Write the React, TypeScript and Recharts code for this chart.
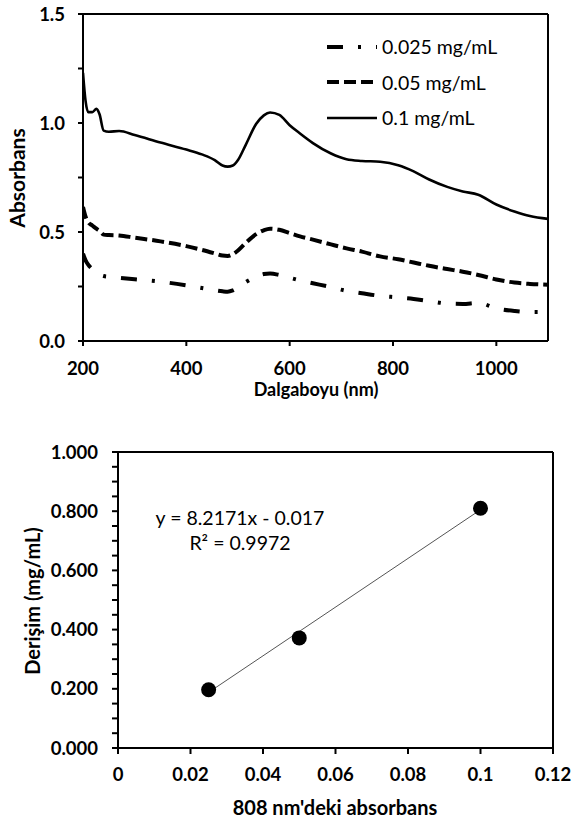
import React from "react";
import {
  LineChart,
  Line,
  ScatterChart,
  Scatter,
  XAxis,
  YAxis,
  ReferenceLine,
  Legend,
  Label,
} from "recharts";

// UV-Vis spectra (wavelength in nm)
const wavelengths = [
  200, 205, 210, 218, 226, 232, 240, 250, 270, 300, 350, 400, 430, 455, 470,
  480, 490, 500, 515, 535, 550, 562, 580, 600, 620, 645, 680, 710, 740, 775,
  810, 840, 870, 905, 935, 965, 1000, 1035, 1065, 1100,
];
const abs01 = [
  1.23, 1.1, 1.05, 1.05, 1.065, 1.04, 0.965, 0.96, 0.963, 0.945, 0.91, 0.878,
  0.856, 0.83, 0.805, 0.8, 0.805, 0.83, 0.9, 0.995, 1.035, 1.048, 1.037, 0.99,
  0.952, 0.908, 0.86, 0.834, 0.826, 0.822, 0.806, 0.778, 0.741, 0.707, 0.686,
  0.671, 0.626, 0.594, 0.573, 0.56,
];
const abs005 = [
  0.615, 0.57, 0.545, 0.53, 0.515, 0.505, 0.488, 0.486, 0.484, 0.474, 0.457,
  0.435, 0.418, 0.402, 0.392, 0.39, 0.398, 0.415, 0.45, 0.49, 0.508, 0.515,
  0.51, 0.495, 0.48, 0.465, 0.443, 0.425, 0.41, 0.388, 0.375, 0.36, 0.345,
  0.33, 0.318, 0.303, 0.282, 0.268, 0.262, 0.258,
];
const abs0025 = [
  0.4, 0.37, 0.35, 0.33, 0.315, 0.305, 0.298, 0.295, 0.29, 0.283, 0.272,
  0.255, 0.243, 0.233, 0.228, 0.226, 0.232, 0.245, 0.27, 0.295, 0.307, 0.31,
  0.303, 0.29, 0.278, 0.265, 0.247, 0.23, 0.219, 0.207, 0.2, 0.193, 0.183,
  0.172, 0.17, 0.175, 0.15, 0.138, 0.133, 0.133,
];
const specXTicks = [200, 400, 600, 800, 1000];
const specYTicks = [0, 0.25, 0.5, 0.75, 1, 1.25, 1.5];

// calibration
const calX = [0.025, 0.05, 0.1];
const calY = [0.197, 0.372, 0.81];
const trendEnds = [
  { x: 0.025, y: 0.188 },
  { x: 0.1, y: 0.805 },
];
const calXTicks = [0, 0.02, 0.04, 0.06, 0.08, 0.1, 0.12];
const calYTicks = Array.from({ length: 21 }, (_, i) => i * 0.05);

const spectra = wavelengths.map((wl, i) => ({
  wl,
  a01: abs01[i],
  a005: abs005[i],
  a0025: abs0025[i],
}));
const calPoints = calX.map((x, i) => ({ x, y: calY[i] }));

const series = [
  { key: "a0025", name: "0.025 mg/mL", dash: "16 15 3 15", width: 4 },
  { key: "a005", name: "0.05 mg/mL", dash: "12 5", width: 4 },
  { key: "a01", name: "0.1 mg/mL", dash: undefined, width: 2.6 },
];

const FONT = "Lato";
const tickStyle = { fill: "#000", fontSize: 18.5, fontWeight: 700, fontFamily: FONT };

const isStep = (v: number, step: number) =>
  Math.abs(v / step - Math.round(v / step)) < 1e-6;

const LegendBox = () => (
  <div style={{ fontFamily: FONT, fontSize: 19.5, color: "#000" }}>
    {series.map((s) => (
      <div
        key={s.key}
        style={{ display: "flex", alignItems: "center", height: 35.5 }}
      >
        <svg width={51} height={10}>
          <line
            x1={0}
            y1={5}
            x2={50}
            y2={5}
            stroke="#000"
            strokeWidth={s.width}
            strokeDasharray={s.dash}
          />
        </svg>
        <span style={{ marginLeft: 4 }}>{s.name}</span>
      </div>
    ))}
  </div>
);

const Dot = (props: any) => (
  <circle cx={props.cx} cy={props.cy} r={7.5} fill="#000" />
);

export default function App() {
  return (
    <div
      style={{
        position: "absolute",
        left: 0,
        top: 0,
        width: 574,
        height: 827,
        background: "#fff",
      }}
    >
      <LineChart
        width={574}
        height={410}
        data={spectra}
        margin={{ top: 14, right: 26, left: 13, bottom: 19 }}
      >
        <XAxis
          type="number"
          dataKey="wl"
          domain={[200, 1100]}
          ticks={specXTicks}
          interval={0}
          allowDataOverflow
          height={50}
          tick={tickStyle}
          tickSize={5}
          tickMargin={16}
          axisLine={{ stroke: "#000", strokeWidth: 2 }}
          tickLine={{ stroke: "#000", strokeWidth: 2 }}
        >
          <Label
            content={() => (
              <text
                x={316}
                y={396}
                textAnchor="middle"
                fontFamily={FONT}
                fontWeight={700}
                fontSize={18}
                fill="#000"
              >
                Dalgaboyu (nm)
              </text>
            )}
          />
        </XAxis>
        <YAxis
          type="number"
          domain={[0, 1.5]}
          ticks={specYTicks}
          interval={0}
          width={70}
          tick={tickStyle}
          tickSize={5}
          tickMargin={13}
          tickFormatter={(v: number) => (isStep(v, 0.5) ? v.toFixed(1) : "")}
          axisLine={{ stroke: "#000", strokeWidth: 2 }}
          tickLine={{ stroke: "#000", strokeWidth: 2 }}
        >
          <Label
            content={() => (
              <text
                x={25}
                y={178}
                transform="rotate(-90 25 178)"
                textAnchor="middle"
                fontFamily={FONT}
                fontWeight={700}
                fontSize={21}
                fill="#000"
              >
                Absorbans
              </text>
            )}
          />
        </YAxis>
        <ReferenceLine y={1.5} stroke="#000" strokeWidth={2} />
        <ReferenceLine x={1100} stroke="#000" strokeWidth={2} />
        {series.map((s) => (
          <Line
            key={s.key}
            type="monotone"
            dataKey={s.key}
            name={s.name}
            stroke="#000"
            strokeWidth={s.width}
            strokeDasharray={s.dash}
            dot={false}
            activeDot={false}
            isAnimationActive={false}
          />
        ))}
        <Legend
          layout="vertical"
          align="center"
          verticalAlign="middle"
          content={() => <LegendBox />}
          wrapperStyle={{ top: 29, left: 327, width: 220 }}
        />
      </LineChart>

      <div style={{ position: "absolute", left: 0, top: 420 }}>
        <ScatterChart
          width={574}
          height={407}
          margin={{ top: 32, right: 21, left: 38, bottom: 29 }}
        >
          <XAxis
            type="number"
            dataKey="x"
            domain={[0, 0.12]}
            ticks={calXTicks}
            interval={0}
            height={50}
            tick={tickStyle}
            tickSize={6}
            tickMargin={14}
            tickFormatter={(v: number) => String(Number(v.toFixed(2)))}
            axisLine={{ stroke: "#000", strokeWidth: 2 }}
            tickLine={{ stroke: "#000", strokeWidth: 2 }}
          >
            <Label
              content={() => (
                <text
                  x={335}
                  y={395}
                  textAnchor="middle"
                  fontFamily={FONT}
                  fontWeight={700}
                  fontSize={20}
                  fill="#000"
                >
                  808 nm'deki absorbans
                </text>
              )}
            />
          </XAxis>
          <YAxis
            type="number"
            dataKey="y"
            domain={[0, 1]}
            ticks={calYTicks}
            interval={0}
            width={80}
            tick={tickStyle}
            tickSize={6}
            tickMargin={14}
            tickFormatter={(v: number) => (isStep(v, 0.2) ? v.toFixed(3) : "")}
            axisLine={{ stroke: "#000", strokeWidth: 2 }}
            tickLine={{ stroke: "#000", strokeWidth: 2 }}
          >
            <Label
              content={() => (
                <text
                  x={40}
                  y={181}
                  transform="rotate(-90 40 181)"
                  textAnchor="middle"
                  fontFamily={FONT}
                  fontWeight={700}
                  fontSize={20}
                  fill="#000"
                >
                  Derişim (mg/mL)
                </text>
              )}
            />
          </YAxis>
          <ReferenceLine y={1} stroke="#000" strokeWidth={2} />
          <ReferenceLine x={0.12} stroke="#000" strokeWidth={2} />
          <ReferenceLine
            segment={trendEnds}
            stroke="#555"
            strokeWidth={1}
            label={{
              content: () => (
                <g fontFamily={FONT} fontSize={19.5} fill="#000">
                  <text x={240} y={105} textAnchor="middle">
                    y = 8.2171x - 0.017
                  </text>
                  <text x={240} y={130} textAnchor="middle">
                    R² = 0.9972
                  </text>
                </g>
              ),
            }}
          />
          <Scatter
            data={calPoints}
            fill="#000"
            shape={Dot}
            isAnimationActive={false}
          />
        </ScatterChart>
      </div>
    </div>
  );
}
